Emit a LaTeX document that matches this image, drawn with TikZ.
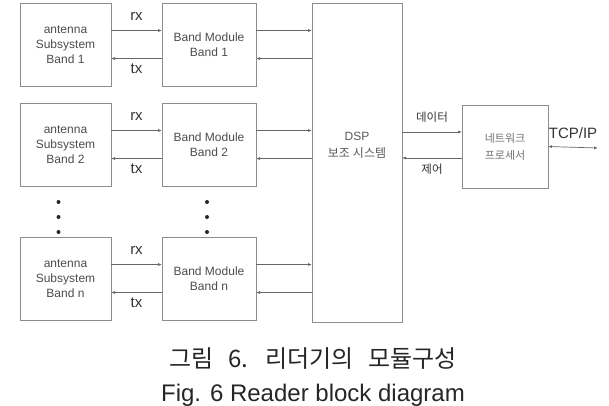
\documentclass[tikz,border=0pt]{standalone}
\usepackage{fontspec}
\setmainfont{Liberation Sans}
\newfontfamily\kr{Noto Sans CJK KR}
\newfontfamily\krcap[WordSpace=2.8]{Noto Sans CJK KR}
\usetikzlibrary{arrows.meta, positioning}

\begin{document}
\begin{tikzpicture}[
  x=1pt, y=-1pt,
  node distance=17pt and 51pt,
  blk/.style={draw=black!45, line width=0.8pt, inner sep=0pt, outer sep=0pt,
              align=center, text=black!70, font=\fontsize{12}{15}\selectfont},
  ant/.style={blk, minimum width=91pt, minimum height=83pt},
  mod/.style={blk, minimum width=94pt, minimum height=83pt},
  txt/.style={align=center, inner sep=0pt, text=black!65},
  sig/.style={inner sep=0pt, text=black!80, font=\fontsize{15}{15}\selectfont},
  arr/.style={-{Latex[length=4pt,width=3pt]}, draw=black!60, line width=0.7pt},
  dbl/.style={{Latex[length=4pt,width=3pt]}-{Latex[length=4pt,width=3pt]},
              draw=black!60, line width=0.7pt}
]
\useasboundingbox (0,0) rectangle (609,405);

% antenna side and band modules
\node[ant] (ant1) at (65.5,44.5) {antenna\\Subsystem\\Band 1};
\node[mod, right=of ant1] (bm1) {Band Module\\Band 1};
\node[ant, below=of ant1] (ant2) {antenna\\Subsystem\\Band 2};
\node[mod, right=of ant2] (bm2) {Band Module\\Band 2};
\node[ant, below=51pt of ant2] (antn) {antenna\\Subsystem\\Band n};
\node[mod, right=of antn] (bmn) {Band Module\\Band n};

% DSP and network processor
\node[blk, minimum width=90pt, minimum height=319pt] (dsp) at (357,162.5) {};
\node[txt, font=\fontsize{12}{17}\selectfont] (dsptxt) at ([yshift=17pt]dsp.center)
  {DSP\\{\kr 보조}\hspace{3pt}{\kr 시스템}};
\node[blk, minimum width=86pt, minimum height=83pt, font=\kr\fontsize{11}{17}\selectfont,
      text=black!55] (np) at (505,146.5) {네트워크\\프로세서};
\coordinate (tcp) at (598,148);

% dots
\foreach \y in {202,217,232} {
  \fill[black!85] ([xshift=-7pt]ant2.south |- 0,\y) circle (2pt);
  \fill[black!85] ([xshift=-2pt]bm2.south |- 0,\y) circle (2pt);
}

% rx / tx
\foreach \a/\b in {ant1/bm1, ant2/bm2, antn/bmn} {
  \draw[arr] ([yshift=14pt]\a.east) -- node[sig, above=10pt] {rx} ([yshift=14pt]\b.west);
  \draw[arr] ([yshift=-14pt]\b.west) -- node[sig, below=5pt] {tx} ([yshift=-14pt]\a.east);
  \draw[arr] ([yshift=14pt]\b.east) -- ([yshift=14pt]\b.east -| dsp.west);
  \draw[arr] ([yshift=-14pt]\b.east -| dsp.west) -- ([yshift=-14pt]\b.east);
}

% data / control
\draw[arr] ([yshift=14.5pt]np.west -| dsp.east) -- node[sig, above=9pt, font=\kr\fontsize{11.5}{12}\selectfont] {데이터} ([yshift=14.5pt]np.west);
\draw[arr] ([yshift=-11.5pt]np.west) -- node[sig, below=6pt, font=\kr\fontsize{11.5}{12}\selectfont] {제어} ([yshift=-11.5pt]np.west -| dsp.east);
\draw[dbl] (np.east) -- node[sig, above=8pt] {TCP/IP} (tcp);

% caption
\node[inner sep=0pt, font=\krcap\fontsize{24}{24}\selectfont, text=black!85] (capkr) at (313,359)
  {그림 6. 리더기의 모듈구성};
\node[inner sep=0pt, anchor=base, font=\fontsize{24}{24}\selectfont, text=black!85] (capen) at (313,401)
  {Fig. 6 Reader block diagram};
\end{tikzpicture}
\end{document}
